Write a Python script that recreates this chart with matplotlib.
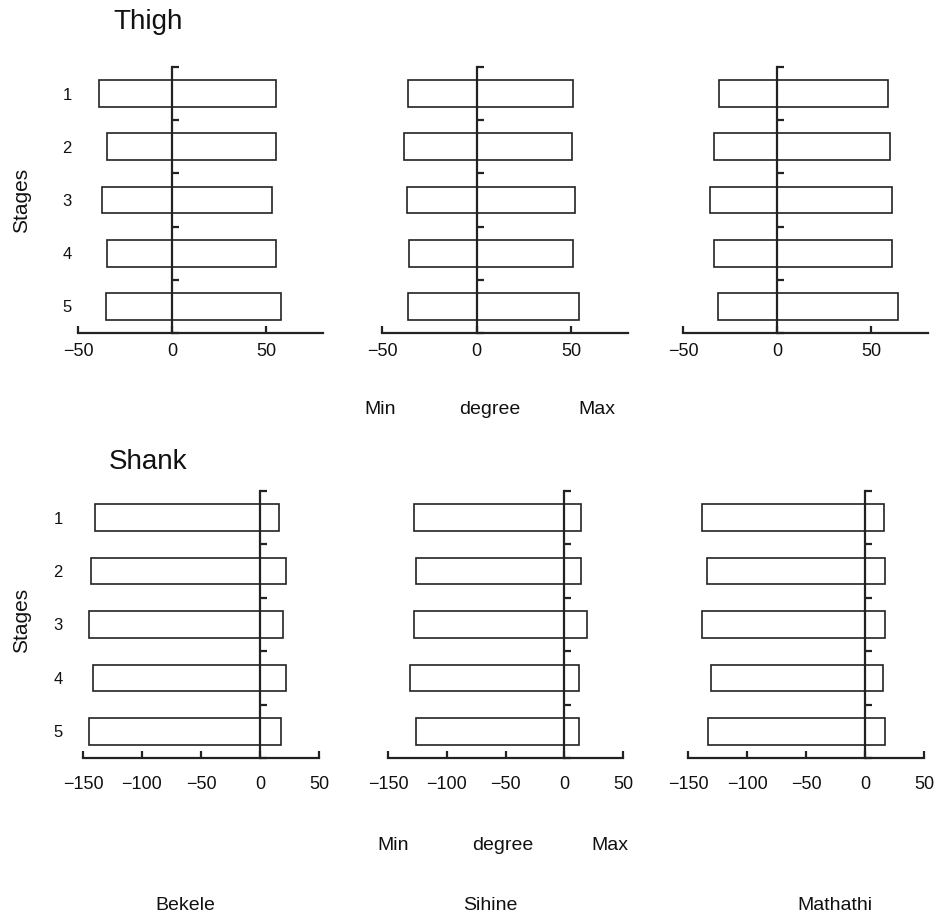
import matplotlib
matplotlib.use("Agg")
import matplotlib.pyplot as plt
from matplotlib.ticker import FixedLocator
import numpy as np

plt.rcParams['font.family'] = ['Liberation Sans', 'DejaVu Sans']

stages = ["1", "2", "3", "4", "5"]
runners = ["Bekele", "Sihine", "Mathathi"]

thigh_min = {
    "Bekele":   [-38.9, -34.5, -37.2, -34.5, -34.9],
    "Sihine":   [-36.3, -38.4, -36.8, -35.8, -36.3],
    "Mathathi": [-31.0, -33.3, -35.8, -33.3, -31.5],
}
thigh_max = {
    "Bekele":   [54.9, 54.9, 52.8, 54.9, 57.7],
    "Sihine":   [51.0, 50.3, 52.2, 51.0, 54.3],
    "Mathathi": [58.9, 59.6, 60.7, 60.7, 63.9],
}
shank_min = {
    "Bekele":   [-139.7, -143.3, -144.5, -141.7, -144.5],
    "Sihine":   [-128.1, -126.4, -128.1, -131.0, -126.4],
    "Mathathi": [-138.4, -133.6, -138.4, -130.8, -132.8],
}
shank_max = {
    "Bekele":   [16.3, 21.9, 19.1, 21.9, 18.2],
    "Sihine":   [14.4, 14.4, 19.0, 12.2, 12.2],
    "Mathathi": [16.4, 17.2, 17.2, 15.3, 17.2],
}
thigh_xticks = [-50, 0, 50]
shank_xticks = [-150, -100, -50, 0, 50]

W, H = 940, 924
fig = plt.figure(figsize=(W / 100, H / 100), dpi=100)


def rect(x0, x1, y0, y1):
    return [x0 / W, 1 - y1 / H, (x1 - x0) / W, (y1 - y0) / H]


top_x = [(78, 323), (382, 628), (683, 928)]
bot_x = [(83, 319), (388, 623), (688, 924)]


def draw(ax, mins, maxs, xlim, xticks, show_y, ylabpad, xlabpad):
    y = np.arange(1, len(stages) + 1)
    mins = np.array(mins)
    maxs = np.array(maxs)
    ax.barh(y, maxs - mins, left=mins, height=0.5, color="white",
            edgecolor="#222222", linewidth=1.2)
    ax.set_xlim(*xlim)
    ax.set_ylim(len(stages) + 0.5, 0.5)
    for s in ["top", "left"]:
        ax.spines[s].set_visible(False)
    ax.spines["right"].set_position(("data", 0))
    ax.spines["right"].set_linewidth(1.6)
    ax.spines["right"].set_color("#222222")
    ax.spines["bottom"].set_linewidth(1.6)
    ax.spines["bottom"].set_color("#222222")
    ax.set_xticks(xticks)
    ax.set_xticklabels([f"{t}".replace("-", "\u2212") for t in xticks])
    ax.tick_params(axis="x", direction="in", length=5, width=1.6,
                   color="#222222", labelsize=13, pad=xlabpad,
                   labelcolor="#111111")
    ax.yaxis.set_major_locator(FixedLocator(y))
    ax.yaxis.set_minor_locator(FixedLocator(np.arange(0.5, len(stages) + 1, 1)))
    ax.set_yticklabels(stages if show_y else [""] * len(stages))
    ax.tick_params(axis="y", which="major", left=False, right=False,
                   labelleft=show_y, labelright=False, labelsize=12,
                   pad=ylabpad, labelcolor="#111111")
    ax.tick_params(axis="y", which="minor", left=False, right=True,
                   direction="out", length=5, width=1.6, color="#222222")


for i, r in enumerate(runners):
    ax = fig.add_axes(rect(top_x[i][0], top_x[i][1], 67, 333))
    draw(ax, thigh_min[r], thigh_max[r], (-50, 80), thigh_xticks,
         i == 0, 1, 7)
for i, r in enumerate(runners):
    ax = fig.add_axes(rect(bot_x[i][0], bot_x[i][1], 491, 758))
    draw(ax, shank_min[r], shank_max[r], (-150, 50), shank_xticks,
         i == 0, 11, 13)


def t(x, y, s, size, **kw):
    fig.text(x / W, 1 - y / H, s, fontsize=size, ha="center", va="center",
             color="#111111", **kw)


t(148, 22, "Thigh", 20)
t(148, 462, "Shank", 20)
t(22, 200, "Stages", 15, rotation=90)
t(22, 620, "Stages", 15, rotation=90)
for (x, s) in [(380, "Min"), (490, "degree"), (597, "Max")]:
    t(x, 410, s, 14)
for (x, s) in [(393, "Min"), (503, "degree"), (610, "Max")]:
    t(x, 845, s, 14)
for (x, s) in [(185, "Bekele"), (490, "Sihine"), (835, "Mathathi")]:
    t(x, 906, s, 14)

fig.savefig("out.png", dpi=100)
